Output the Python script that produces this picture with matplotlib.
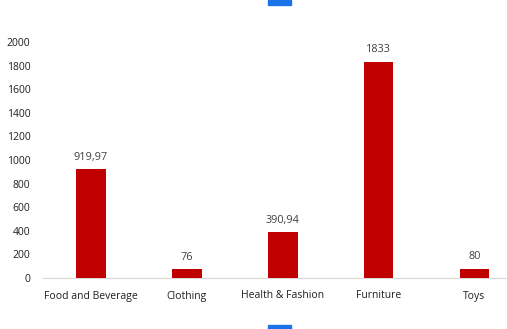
import matplotlib
matplotlib.use("Agg")
import matplotlib.pyplot as plt
from matplotlib.patches import Rectangle

categories = ["Food and Beverage", "Clothing", "Health & Fashion", "Furniture", "Toys"]
values = [919.97, 76, 390.94, 1833, 80]
value_labels = ["919,97", "76", "390,94", "1833", "80"]
yticks = [0, 200, 400, 600, 800, 1000, 1200, 1400, 1600, 1800, 2000]

plt.rcParams['font.family'] = ['Open Sans', 'DejaVu Sans']

W, H = 507, 329
fig = plt.figure(figsize=(W / 100, H / 100), dpi=100)
# axes: left 43px, right 507px, y0 at 278px, y2000 at 42px
ax = fig.add_axes([43 / W, (H - 278) / H, (W - 43) / W, (278 - 42) / H])

x = list(range(len(categories)))
bars = ax.bar(x, values, width=0.31, color="#C00000", zorder=3)
for xi, v, lab in zip(x, values, value_labels):
    ax.annotate(lab, (xi, v), xytext=(0, 4.5), textcoords="offset points",
                ha="center", va="bottom", fontsize=7.8, color="#404040")

ax.set_xlim(-0.5, 4.34)
ax.set_ylim(0, 2000)
ax.set_yticks(yticks)
ax.set_xticks(x)
ax.set_xticklabels(categories, fontsize=7.5, color="#202020")
ax.tick_params(axis="y", labelsize=7.5, labelcolor="#202020", length=0, pad=9)
ax.tick_params(axis="x", length=0, pad=9)
for s in ["top", "right", "left"]:
    ax.spines[s].set_visible(False)
ax.spines["bottom"].set_color("#D9D9D9")
ax.spines["bottom"].set_linewidth(0.8)

# selection handles
fig.patches.append(Rectangle((268 / W, (H - 5) / H), 23 / W, 5 / H,
                             transform=fig.transFigure, color="#1A73E8", figure=fig))
fig.patches.append(Rectangle((268 / W, 0), 23 / W, 4 / H,
                             transform=fig.transFigure, color="#1A73E8", figure=fig))

fig.savefig("out.png", dpi=100)
